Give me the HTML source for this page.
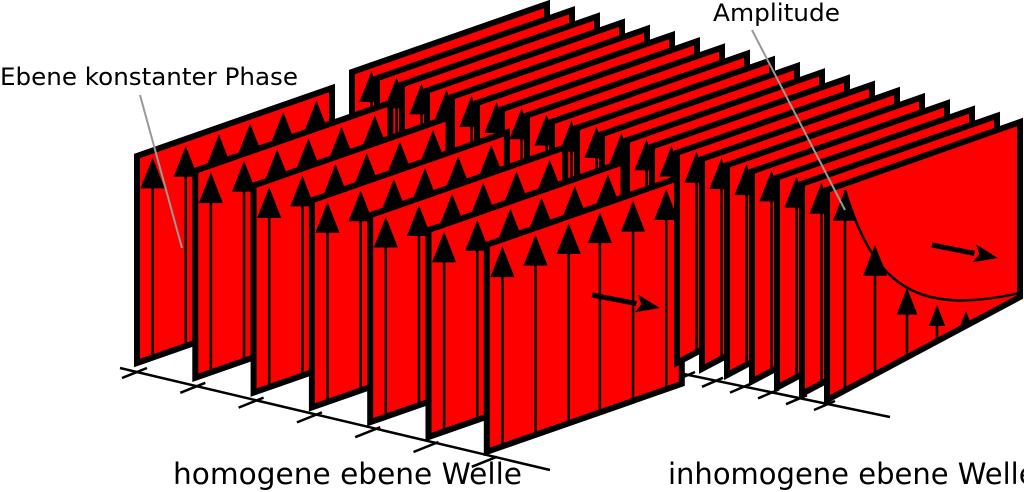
<!DOCTYPE html>
<html><head><meta charset="utf-8"><style>
html,body{margin:0;padding:0;background:#fff;width:1024px;height:492px;overflow:hidden}
svg{display:block}
text{font-family:"DejaVu Sans","Liberation Sans",sans-serif;fill:#000}
</style></head><body>
<svg id="s" width="1024" height="492" viewBox="0 0 1024 492" xmlns="http://www.w3.org/2000/svg">
<g id="g"></g>
<line x1="140" y1="95" x2="182" y2="248" stroke="#999" stroke-width="2"/>
<line x1="752" y1="30" x2="845" y2="210" stroke="#999" stroke-width="2"/>
<text x="0" y="85" font-size="24" textLength="298" lengthAdjust="spacingAndGlyphs">Ebene konstanter Phase</text>
<text x="713" y="21" font-size="24" textLength="127" lengthAdjust="spacingAndGlyphs">Amplitude</text>
<text x="173" y="484" font-size="29" textLength="349" lengthAdjust="spacingAndGlyphs">homogene ebene Welle</text>
<text x="668" y="484" font-size="29">inhomogene ebene Welle</text>
</svg>
<script>
var g=document.getElementById('g');
var DX=195,DY=-68;
function ah(x,yt,sz){return '<path d="M'+x+' '+yt+'L'+(x-11*sz)+' '+(yt+28*sz)+'L'+(x+11*sz)+' '+(yt+28*sz)+'Z"/>';}
function plane(fx,fb,H,arrows,sz,DB){
 DB=DB||DY;
 var s='<path d="M'+fx+' '+fb+'L'+fx+' '+(fb-H)+'L'+(fx+DX)+' '+(fb-H+DY)+'L'+(fx+DX)+' '+(fb+DB)+'Z" fill="#f00" stroke="#000" stroke-width="6" stroke-linejoin="miter"/>';
 arrows.forEach(function(a){
  var t=a[0],ht=a[1];
  var x=fx+DX*t,yb=fb+DB*t,yt=fb+DY*t-ht;
  s+='<line x1="'+x+'" y1="'+yb+'" x2="'+x+'" y2="'+(yt+10)+'" stroke="#000" stroke-width="2.5"/>'+ah(x,yt,sz);
 });
 return s;
}
function arrow(x1,y1,x2,y2){
 var a=Math.atan2(y2-y1,x2-x1),c=Math.cos(a),s=Math.sin(a);
 var bx=x2-24*c,by=y2-24*s;
 return '<line x1="'+x1+'" y1="'+y1+'" x2="'+bx+'" y2="'+by+'" stroke="#000" stroke-width="5"/>'+
 '<path d="M'+x2+' '+y2+'L'+(bx-9*s)+' '+(by+9*c)+'L'+(bx+5*c)+' '+(by+5*s)+'L'+(bx+9*s)+' '+(by-9*c)+'Z"/>';
}
var ts=[0.08,0.25,0.42,0.58,0.75,0.92];
var rightBack='',rightFront='';
var N=20;
for(var i=0;i<N;i++){
 var fx=352+25*i,fb=282+118*i/(N-1),H=210;
 var p=plane(fx,fb,H,[[0.1,H-6]],1.1,-103);
 if(i===N-1){
  fx=827;
  p='<path d="M827 400L827 190L1020 122L1020 297Z" fill="#f00" stroke="#000" stroke-width="6"/>';
  p+='<path d="M845 190C875 290 920 315 1020 293" fill="none" stroke="#000" stroke-width="2.5"/>';
  [[845,190,1.1],[875,245,1.1],[907,288,0.95],[937,305,0.75],[966,311,0.5]].forEach(function(a){
   var yb=400-103*(a[0]-827)/193;
   p+='<line x1="'+a[0]+'" y1="'+yb+'" x2="'+a[0]+'" y2="'+(a[1]+8)+'" stroke="#000" stroke-width="2.5"/>'+ah(a[0],a[1],a[2]);
  });
  p+=arrow(932,245,998,258);
 }
 if(fx<660) rightBack+=p; else rightFront+=p;
}
var left='';
for(var j=0;j<7;j++){
 var fx=137+58.3*j,fb=363+14.8*j;
 left+=plane(fx,fb,207,ts.map(function(t){return [t,200];}),1.1);
}
left+=arrow(592,295,660,308);
var axes='<line x1="120" y1="368" x2="550" y2="470" stroke="#000" stroke-width="2.5"/>';
for(var j=0;j<7;j++){var x=137+58.3*j,y=372+14.8*j;axes+='<line x1="'+(x-15)+'" y1="'+(y+6)+'" x2="'+(x+10)+'" y2="'+(y-4)+'" stroke="#000" stroke-width="2.5"/>';}
axes+='<line x1="655" y1="368" x2="890" y2="417" stroke="#000" stroke-width="2.5"/>';
for(var k=0;k<7;k++){var x=827-28*k,y=404-5.8*k;axes+='<line x1="'+(x-13)+'" y1="'+(y+6)+'" x2="'+(x+8)+'" y2="'+(y-3)+'" stroke="#000" stroke-width="2.5"/>';}
g.innerHTML=axes+rightBack+left+rightFront;
</script>
</body></html>
